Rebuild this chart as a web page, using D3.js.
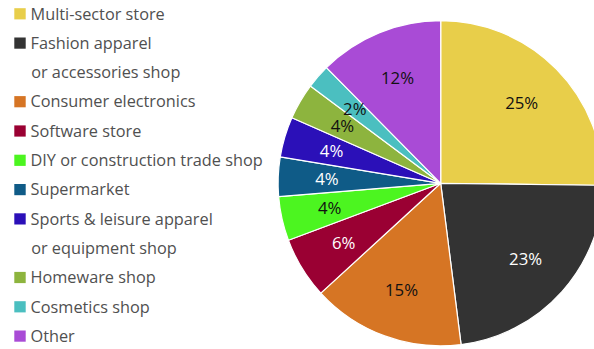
<!DOCTYPE html>
<html>
<head>
<meta charset="utf-8">
<script src="https://cdn.jsdelivr.net/npm/d3@7"></script>
<style>
  html, body { margin: 0; padding: 0; background: #fff; }
  svg { display: block; }
</style>
</head>
<body>
<svg id="chart" width="594" height="349"></svg>
<script>
// Shop types (legend lines; "\n" marks a wrapped second line)
const categories = [
  "Multi-sector store",
  "Fashion apparel\nor accessories shop",
  "Consumer electronics",
  "Software store",
  "DIY or construction trade shop",
  "Supermarket",
  "Sports & leisure apparel\nor equipment shop",
  "Homeware shop",
  "Cosmetics shop",
  "Other"
];
// Share of purchases, in percent
const shares = [25.2, 22.8, 15.2, 6.1, 4.4, 3.9, 4.0, 3.6, 2.4, 12.4];
const colors = ["#e8ce4a", "#333333", "#d67524", "#9a0033", "#4cf520",
                "#0f5b87", "#2b10b8", "#8db43e", "#4bbfc0", "#a94bd6"];
const labelColors = ["#111", "#fff", "#111", "#fff", "#111",
                     "#fff", "#fff", "#111", "#111", "#111"];

const data = categories.map((c, i) => ({ name: c, value: shares[i], color: colors[i], text: labelColors[i] }));

const svg = d3.select("#chart");
const cx = 440.7, cy = 183.3, r = 162.6;
const font = "'Open Sans', 'Noto Sans', sans-serif";

// Pie
const pie = d3.pie().value(d => d.value).sort(null);
const arc = d3.arc().innerRadius(0).outerRadius(r);
const labelArc = d3.arc().innerRadius(r * 0.7).outerRadius(r * 0.7);

const g = svg.append("g").attr("transform", `translate(${cx},${cy})`);
const arcs = pie(data);

g.selectAll("path.slice")
  .data(arcs)
  .join("path")
  .attr("class", "slice")
  .attr("d", arc)
  .attr("fill", d => d.data.color)
  .attr("stroke", "#fff")
  .attr("stroke-width", 1.2)
  .attr("stroke-linejoin", "round");

g.selectAll("text.pct")
  .data(arcs)
  .join("text")
  .attr("class", "pct")
  .attr("transform", d => `translate(${labelArc.centroid(d)})`)
  .attr("text-anchor", "middle")
  .attr("dy", "0.36em")
  .attr("font-family", font)
  .attr("font-size", 16.8)
  .attr("fill", d => d.data.text)
  .text(d => Math.round(d.data.value) + "%");

// Legend
const lineH = 29.3, firstY = 13.8;
const legend = svg.append("g");
let line = 0;
data.forEach(d => {
  const parts = d.name.split("\n");
  const y0 = firstY + line * lineH;
  legend.append("rect")
    .attr("x", 14.3).attr("y", y0 - 5.6)
    .attr("width", 11.4).attr("height", 11.2)
    .attr("fill", d.color);
  parts.forEach((p, k) => {
    legend.append("text")
      .attr("x", k === 0 ? 30.5 : 31.2)
      .attr("y", y0 + k * lineH + 5.7)
      .attr("font-family", font)
      .attr("font-size", 16.3)
      .attr("fill", "#505050")
      .text(p);
  });
  line += parts.length;
});
</script>
</body>
</html>
